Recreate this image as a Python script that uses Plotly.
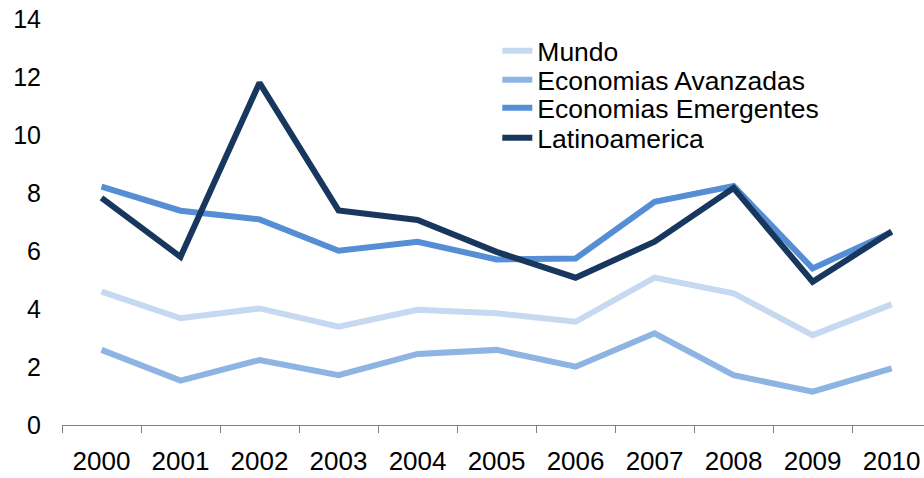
import plotly.graph_objects as go

years = ["2000", "2001", "2002", "2003", "2004", "2005", "2006", "2007", "2008", "2009", "2010"]
mundo = [4.6, 3.68, 4.02, 3.39, 3.97, 3.85, 3.56, 5.08, 4.54, 3.1, 4.16]
avanzadas = [2.59, 1.53, 2.24, 1.72, 2.45, 2.59, 2.01, 3.16, 1.72, 1.15, 1.95]
emergentes = [8.22, 7.39, 7.09, 6.01, 6.32, 5.71, 5.74, 7.7, 8.24, 5.4, 6.65]
latam = [7.83, 5.8, 11.8, 7.4, 7.07, 5.97, 5.08, 6.32, 8.17, 4.94, 6.67]

names = ["Mundo", "Economias Avanzadas", "Economias Emergentes", "Latinoamerica"]
colors = ["#C6D9F1", "#8EB4E3", "#558ED5", "#17375E"]
series = [mundo, avanzadas, emergentes, latam]
legend_ids = ["legend", "legend2", "legend3", "legend4"]
legend_y = [0.921, 0.850, 0.781, 0.707]

FONT = "Liberation Sans, Arial, sans-serif"

fig = go.Figure()
for name, col, vals, lid in zip(names, colors, series, legend_ids):
    fig.add_trace(go.Scatter(
        x=years, y=vals, name=name, mode="lines",
        line=dict(color=col, width=6),
        legend=lid,
    ))

layout_legends = {}
for lid, ly in zip(legend_ids, legend_y):
    layout_legends[lid] = dict(
        x=0.505, y=ly, xanchor="left", yanchor="middle",
        bgcolor="rgba(0,0,0,0)", borderwidth=0,
        font=dict(family=FONT, size=26.5, color="#000000"),
        itemwidth=30,
    )

fig.update_layout(
    width=924, height=478,
    margin=dict(l=62, r=0, t=19, b=53),
    paper_bgcolor="white", plot_bgcolor="white",
    font=dict(family=FONT, size=25, color="#000000"),
    showlegend=True,
    **layout_legends,
)

fig.update_xaxes(
    type="category", categoryorder="array", categoryarray=years,
    range=[-0.5, 10.41], tickson="boundaries", automargin=False,
    ticks="outside", ticklen=7, tickcolor="#808080", tickwidth=1,
    showline=True, linecolor="#808080", linewidth=1,
    showgrid=False, zeroline=False,
    tickfont=dict(family=FONT, size=26, color="#000000"),
    ticklabelstandoff=13,
)
fig.update_yaxes(
    range=[0, 14], dtick=2, tick0=0, automargin=False,
    showgrid=False, zeroline=False, showline=False, ticks="",
    tickfont=dict(family=FONT, size=25, color="#000000"),
    ticklabelstandoff=20,
)

fig.write_html(
    "out.html",
    config={"displayModeBar": False},
    post_script="document.body.style.margin='0px';document.body.style.padding='0px';",
)
